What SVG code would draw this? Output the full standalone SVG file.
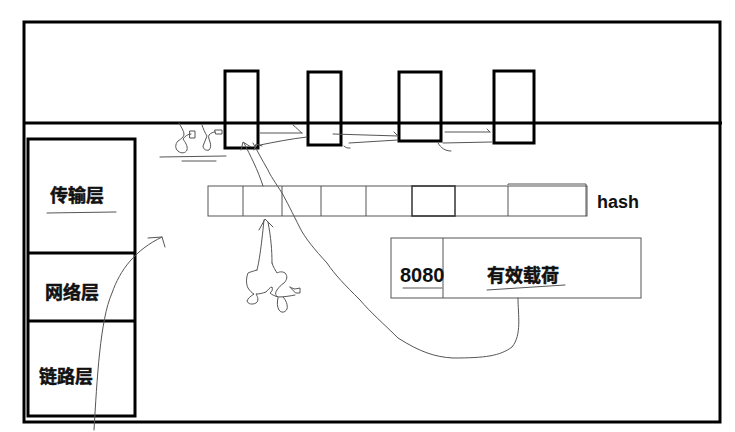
<svg xmlns="http://www.w3.org/2000/svg" width="735" height="432" viewBox="0 0 735 432">
<style>
.thick{fill:none;stroke:#000;stroke-width:3}
.thin{fill:none;stroke:#555;stroke-width:1}
.pen{fill:none;stroke:#555;stroke-width:1;stroke-linecap:round;stroke-linejoin:round}
.cn{font-family:"Noto Sans CJK SC","Liberation Sans",sans-serif;font-weight:bold;font-size:18px;fill:#111;stroke:#111;stroke-width:0.5}
.en{font-family:"Liberation Sans",Arial,sans-serif;font-weight:bold;fill:#111}
</style>
<rect width="735" height="432" fill="#fff"/>
<g id="frame">
<rect class="thick" x="24" y="22" width="696" height="400"/>
<line class="thick" x1="24" y1="123" x2="722" y2="123"/>
</g>
<g id="sockets">
<rect class="thick" x="225" y="71" width="33" height="77"/>
<rect class="thick" x="308" y="72" width="33" height="73"/>
<rect class="thick" x="399" y="72" width="42" height="69"/>
<rect class="thick" x="494" y="71" width="40" height="72"/>
</g>
<g id="stack">
<rect class="thick" x="28" y="139" width="107" height="277"/>
<line class="thick" x1="28" y1="253" x2="135" y2="253"/>
<line class="thick" x1="28" y1="321" x2="135" y2="321"/>
<text class="cn" x="50" y="202">传输层</text>
<line class="pen" x1="47" y1="213" x2="116" y2="212"/>
<text class="cn" x="45" y="299">网络层</text>
<text class="cn" x="39" y="383">链路层</text>
</g>
<g id="hash">
<rect class="thin" x="208" y="186" width="379" height="30"/>
<line class="thin" x1="243" y1="186" x2="243" y2="216"/>
<line class="thin" x1="282" y1="186" x2="282" y2="216"/>
<line class="thin" x1="321" y1="186" x2="321" y2="216"/>
<line class="thin" x1="366" y1="186" x2="366" y2="216"/>
<rect fill="none" stroke="#333" stroke-width="1.5" x="412" y="186" width="43" height="30"/>
<line class="thin" x1="508" y1="186" x2="508" y2="216"/>
<polyline class="thin" points="508,185 508,184 586,184 586,216"/>
<text class="en" font-size="18" x="597" y="208">hash</text>
</g>
<g id="packet">
<rect class="thin" x="391" y="238" width="250" height="60"/>
<line class="thin" x1="443" y1="238" x2="443" y2="298"/>
<text class="en" font-size="20" x="400" y="282">8080</text>
<line class="pen" x1="403" y1="288" x2="442" y2="288"/>
<text class="cn" font-size="19" x="487" y="282">有效载荷</text>
<line class="pen" x1="487" y1="290" x2="565" y2="285"/>
</g>
<g id="connectors">
<path class="pen" d="M94,430 C97,380 100,320 112,293 C120,270 135,250 162,237"/>
<path class="pen" d="M148,238 L162,237 L165,247"/>
<path class="pen" d="M518,298 C518,315 522,335 512,347 C500,356 485,358 453,358 C435,357 420,352 398,338 C385,325 370,312 360,300 C345,285 335,275 327,263 C315,250 305,238 300,228 C292,212 287,202 282,193 C275,182 270,175 268,170 C262,160 258,152 253,143"/>
<path class="pen" d="M244,143 C250,155 258,170 263,186"/>
<path class="pen" d="M241,150 L243,142 L251,147"/>
<path class="pen" d="M254,150 L256,144 L262,146"/>
<path class="pen" d="M257,270 C259,262 261,250 264,220"/>
<path class="pen" d="M272,263 C272,250 271,238 268,222"/>
<path class="pen" d="M259,230 L265,219 L273,227"/>
<path class="pen" d="M260,133 L302,133"/>
<path class="pen" d="M293,125 C297,128 299,131 302,133"/>
<path class="pen" d="M260,145 C275,142 290,139 307,137"/>
<path class="pen" d="M333,134 L398,136"/>
<path class="pen" d="M394,132 L398,136"/>
<path class="pen" d="M349,143 L398,140"/>
<path class="pen" d="M344,146 C346,148 347,148 350,148"/>
<path class="pen" d="M445,132 L490,132"/>
<path class="pen" d="M487,129 L490,132"/>
<path class="pen" d="M443,143 L492,142"/>
<path class="pen" d="M438,143 C441,148 445,151 451,151"/>
</g>
<g id="doodles">
<path class="pen" d="M179,123 C181,127 184,131 184,134 C184,137 181,139 178,141 C175,144 175,149 178,151 C181,154 186,153 187,150 C188,146 185,142 183,139 C185,136 188,134 191,134"/>
<path class="pen" d="M190,131 L195,131 L195,138 L190,138 Z"/>
<path class="pen" d="M202,125 C203,128 205,133 207,136 C206,139 204,143 203,146 C203,149 206,151 209,150 C211,148 211,145 210,142 C209,139 208,137 209,135 C211,133 213,132 215,132"/>
<path class="pen" d="M215,130 L222,130 L222,134 L216,134 Z"/>
<path class="pen" d="M160,157 L226,156"/>
<path class="pen" d="M182,161 L216,161"/>
<path class="pen" d="M257,270 C254,271 250,272 248,273 C246,278 246,284 248,288 C250,291 252,293 254,294 C251,296 248,298 247,301 C248,304 252,305 256,303 C259,301 258,297 256,294 C260,294 263,293 266,292 C268,290 270,287 272,287 C273,289 272,292 270,293 C272,295 275,296 278,297"/>
<path class="pen" d="M272,263 C273,267 276,271 277,273 C279,272 282,271 285,273 C288,276 287,280 284,283 C281,285 279,287 277,290 C275,293 275,295 278,297 C284,297 290,296 295,295"/>
<path class="pen" d="M278,298 C277,302 277,307 279,310 C281,313 285,313 287,309 C288,305 286,300 283,297"/>
<path class="pen" d="M290,287 C292,288 294,289 295,289 L300,288 L300,293 L296,293 Z"/>
</g>
</svg>
